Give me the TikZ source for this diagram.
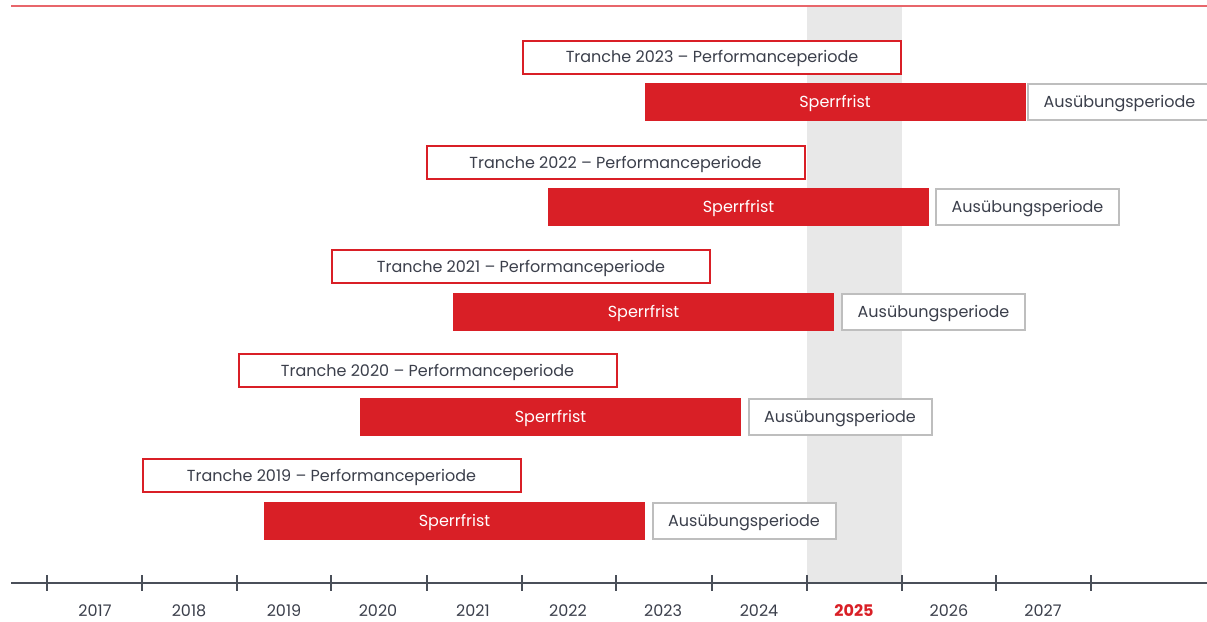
\documentclass[tikz,border=0pt]{standalone}
\usepackage{fontspec}
\setmainfont{Poppins}
\definecolor{brandred}{HTML}{D91F26}
\definecolor{toplinered}{HTML}{E8666B}
\definecolor{txtgray}{HTML}{3B3F4B}
\definecolor{bandgray}{HTML}{E8E8E8}
\definecolor{boxgray}{HTML}{BEBEBE}
\definecolor{axisgray}{HTML}{4A4F59}
\tikzset{
  lblfont/.style={font=\fontsize{16}{18}\selectfont, text height=11.5pt, text depth=0pt},
  tranchebox/.style={lblfont, draw=brandred, line width=2pt, fill=white, text=txtgray, inner sep=0pt,
    minimum width=378pt, minimum height=33pt},
  sperrbox/.style={lblfont, fill=brandred, text=white, inner sep=0pt,
    minimum width=381pt, minimum height=38pt},
  ausbox/.style={lblfont, draw=boxgray, line width=2pt, fill=white, text=txtgray, inner sep=0pt,
    minimum width=183pt, minimum height=36pt},
  yearlabel/.style={lblfont, text=txtgray, inner sep=0pt, anchor=base},
  axisline/.style={draw=axisgray, line width=1.2pt},
}
\begin{document}
\begin{tikzpicture}[x=1pt,y=-1pt]
\useasboundingbox (0,0) rectangle (1207,621);
% gray band for 2025
\fill[bandgray] (807,6) rectangle (902,583);
% top line
\draw[toplinered, line width=2pt] (11,6) -- (1207,6);
% axis
\coordinate (axL) at (11,583);
\coordinate (axR) at (1207,583);
\draw[axisline] (axL) -- (axR);
\foreach \tx in {47,142,237,331,427,522,616,712,807,902,996,1091}{
  \draw[axisline] (\tx,575) -- (\tx,591);
}
\foreach \yr/\cx in {2017/95,2018/189,2019/284,2020/378,2021/473,2022/568,2023/663,2024/759,2026/949,2027/1043}{
  \node[yearlabel] (y\yr) at (\cx,616) {\yr};
}
\node[yearlabel, text=brandred, font=\fontsize{16}{18}\selectfont\bfseries] (y2025) at (854,616) {2025};
% rows
\foreach \tr/\tx/\ty/\sx/\sy/\ax in {
  2023/712/57/835/102/1119.5,
  2022/615.5/162.5/738.5/207/1027.5,
  2021/521/266.5/643.5/311.5/933.5,
  2020/427.5/370.5/550.5/416.5/840,
  2019/331.5/475.5/454.5/521/744}{
  \node[tranchebox] (t\tr) at (\tx,\ty) {Tranche \tr\ – Performanceperiode};
  \node[sperrbox] (s\tr) at (\sx,\sy) {Sperrfrist};
  \node[ausbox] (a\tr) at (\ax,\sy) {Ausübungsperiode};
}
\end{tikzpicture}
\end{document}
